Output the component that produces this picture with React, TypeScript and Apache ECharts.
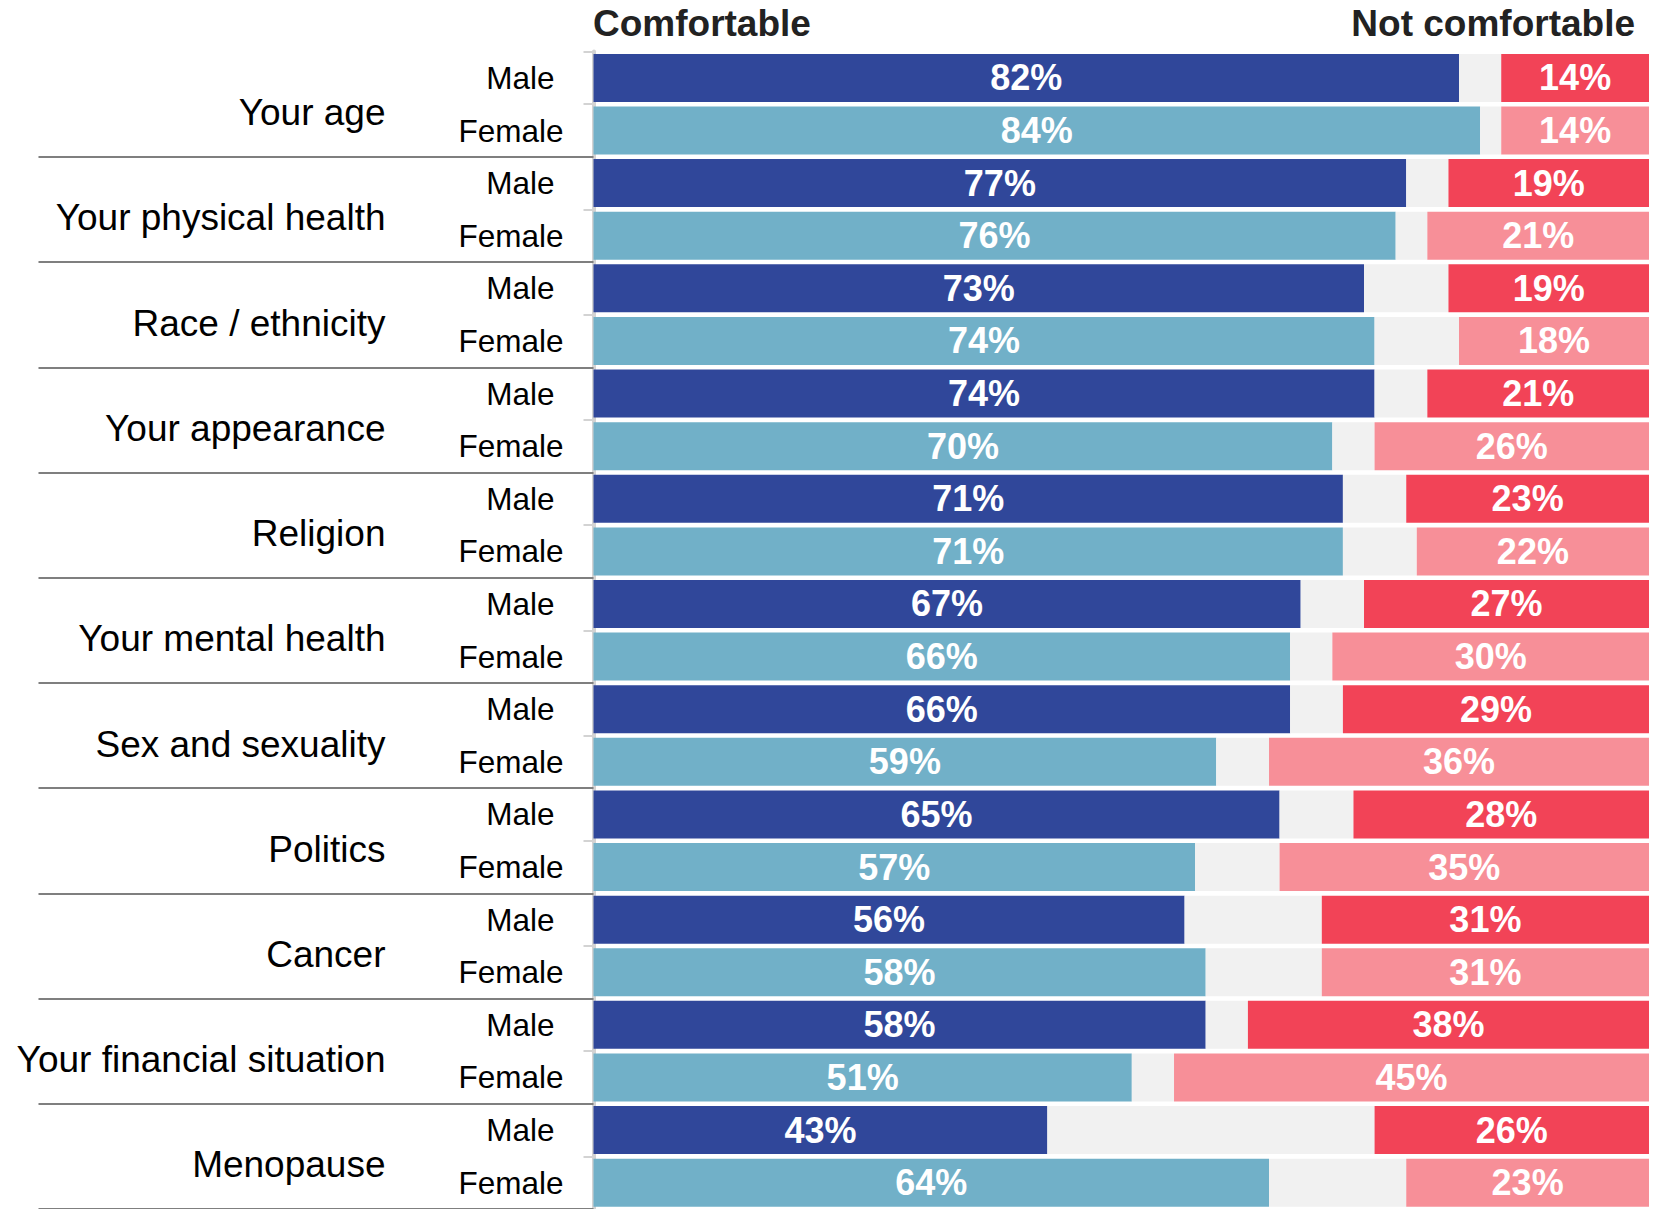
import React, { useEffect, useRef } from "react";
import * as echarts from "echarts";

const topics = [
  "Your age",
  "Your physical health",
  "Race / ethnicity",
  "Your appearance",
  "Religion",
  "Your mental health",
  "Sex and sexuality",
  "Politics",
  "Cancer",
  "Your financial situation",
  "Menopause",
];
const genders = ["Male", "Female"];
const maleComfortable = [82, 77, 73, 74, 71, 67, 66, 65, 56, 58, 43];
const maleNotComfortable = [14, 19, 19, 21, 23, 27, 29, 28, 31, 38, 26];
const femaleComfortable = [84, 76, 74, 70, 71, 66, 59, 57, 58, 51, 64];
const femaleNotComfortable = [14, 21, 18, 26, 22, 30, 36, 35, 31, 45, 23];
const headers = ["Comfortable", "Not comfortable"];

const FONT = "'Liberation Sans', Arial, Helvetica, sans-serif";
const C_MALE = "#30479A";
const C_FEMALE = "#71B0C8";
const C_NEUTRAL = "#F1F1F1";
const N_MALE = "#F24357";
const N_FEMALE = "#F78F98";

type Row = { gender: string; c: number; n: number; male: boolean };

export default function App() {
  const ref = useRef<HTMLDivElement>(null);

  useEffect(() => {
    if (!ref.current) return;
    const chart = echarts.init(ref.current, undefined, { renderer: "svg" });

    const rows: Row[] = [];
    topics.forEach((_, i) => {
      rows.push({ gender: genders[0], c: maleComfortable[i], n: maleNotComfortable[i], male: true });
      rows.push({ gender: genders[1], c: femaleComfortable[i], n: femaleNotComfortable[i], male: false });
    });

    const labelStyle = {
      show: true,
      position: "inside" as const,
      formatter: "{c}%",
      color: "#ffffff",
      fontSize: 36,
      fontWeight: "bold" as const,
      fontFamily: FONT,
    };

    chart.setOption({
      animation: false,
      backgroundColor: "#ffffff",
      textStyle: { fontFamily: FONT },
      grid: { left: 593.5, right: 4, top: 51.6, bottom: -3, containLabel: false },
      xAxis: {
        type: "value",
        min: 0,
        max: 100,
        show: false,
      },
      yAxis: [
        {
          type: "category",
          inverse: true,
          data: rows.map((r) => r.gender),
          axisLine: { show: true, lineStyle: { color: "#D3D3D3", width: 4 } },
          axisTick: { show: true, length: 10, lineStyle: { color: "#D3D3D3", width: 2 } },
          axisLabel: {
            margin: 30,
            fontSize: 31.5,
            color: "#000000",
            fontFamily: FONT,
            formatter: (v: string) => (v === "Male" ? `{m|${v}}` : `{f|${v}}`),
            rich: {
              m: { fontSize: 31.5, color: "#000000", fontFamily: FONT, padding: [0, 9, 0, 0] },
              f: { fontSize: 31.5, color: "#000000", fontFamily: FONT },
            },
          },
        },
        {
          type: "category",
          inverse: true,
          position: "left",
          data: topics,
          axisLine: { show: false },
          axisTick: {
            show: true,
            length: 555,
            interval: (index: number) => index !== 0,
            lineStyle: { color: "#7F7F7F", width: 2 },
          },
          axisLabel: {
            margin: 208,
            fontSize: 37,
            lineHeight: 17,
            color: "#000000",
            fontFamily: FONT,
            formatter: (v: string) => "\n" + v,
          },
        },
      ],
      series: [
        {
          name: headers[0],
          type: "bar",
          stack: "total",
          barWidth: 48,
          yAxisIndex: 0,
          data: rows.map((r) => ({ value: r.c, itemStyle: { color: r.male ? C_MALE : C_FEMALE } })),
          label: labelStyle,
        },
        {
          name: "Neutral",
          type: "bar",
          stack: "total",
          barWidth: 48,
          yAxisIndex: 0,
          data: rows.map((r) => ({ value: 100 - r.c - r.n, itemStyle: { color: C_NEUTRAL } })),
          label: { show: false },
        },
        {
          name: headers[1],
          type: "bar",
          stack: "total",
          barWidth: 48,
          yAxisIndex: 0,
          data: rows.map((r) => ({ value: r.n, itemStyle: { color: r.male ? N_MALE : N_FEMALE } })),
          label: labelStyle,
        },
      ],
      graphic: [
        {
          type: "text",
          left: 593,
          top: 5,
          style: {
            text: headers[0],
            fontSize: 37,
            fontWeight: "bold",
            fill: "#222222",
            fontFamily: FONT,
          },
        },
        {
          type: "text",
          right: 18,
          top: 5,
          style: {
            text: headers[1],
            fontSize: 37,
            fontWeight: "bold",
            fill: "#222222",
            fontFamily: FONT,
          },
        },
      ],
    });

    return () => chart.dispose();
  }, []);

  return (
    <div
      ref={ref}
      style={{ position: "absolute", left: 0, top: 0, width: 1653, height: 1209 }}
    />
  );
}
